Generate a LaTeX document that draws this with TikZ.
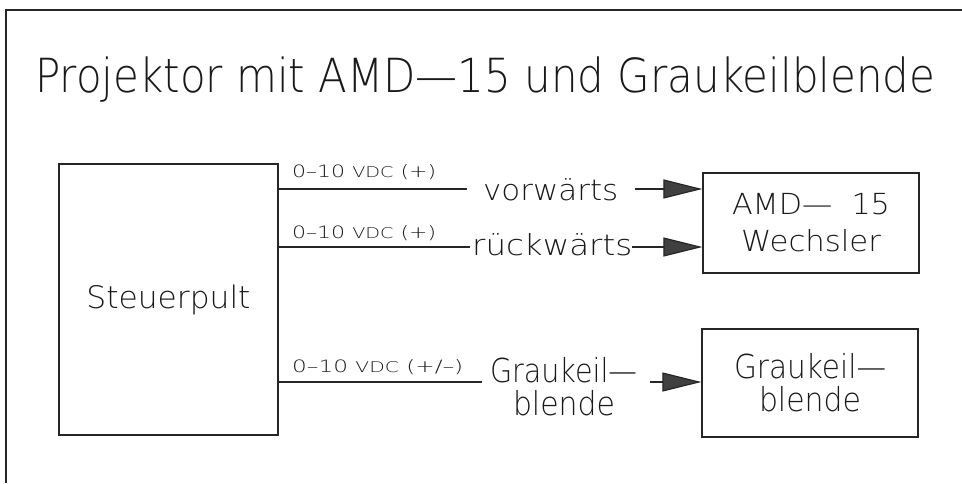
\documentclass[tikz,border=0pt]{standalone}
\usepackage{graphicx}
\usepackage{fontspec}
\setmainfont{DejaVu Sans ExtraLight}
\usetikzlibrary{arrows.meta}
\newcommand{\tw}[2]{\resizebox{#1}{\height}{#2}}
\newcommand{\vdc}{\scalebox{0.87}{VDC}}
\tikzset{
  frame/.style={line width=1.4pt, draw=black!85},
  box/.style={draw=black!85, line width=1.3pt, inner sep=0pt, align=center, text=black!90},
  txt/.style={inner sep=0pt, anchor=base west, text=black!90},
  wire/.style={line width=1.2pt, draw=black!85},
  tip/.style={-{Triangle[length=39pt,width=19pt,fill=black!75]}},
}
\begin{document}
\begin{tikzpicture}[x=1pt,y=-1pt]
\useasboundingbox (0,0) rectangle (962,483);
\fill[white] (0,0) rectangle (962,483);
% frame
\draw[frame] (962,10) -- (6,10) -- (6,483);
% title
\node[txt, font=\fontsize{47}{47}\selectfont] (title) at (35,92) {\tw{900pt}{Projektor mit AMD—15 und Graukeilblende}};
% boxes
\node[box, minimum width=219pt, minimum height=271pt, font=\fontsize{31}{31}\selectfont] (sp) at (168.5,299.5)
  {\tw{164pt}{Steuerpult}};
\node[box, minimum width=216pt, minimum height=100pt, font=\fontsize{29}{37}\selectfont] (amd) at (811,223)
  {\tw{158pt}{AMD— \ 15}\\\tw{140pt}{Wechsler}};
\node[box, minimum width=216pt, minimum height=108pt, font=\fontsize{33}{33}\selectfont] (gk) at (810,383)
  {\tw{152pt}{Graukeil—}\\\tw{102pt}{blende}};
% voltage labels
\node[txt, font=\fontsize{17}{17}\selectfont] (l1) at (292,177) {\tw{144pt}{0–10 \vdc{} (+)}};
\node[txt, font=\fontsize{17}{17}\selectfont] (l2) at (292,238) {\tw{144pt}{0–10 \vdc{} (+)}};
\node[txt, font=\fontsize{17}{17}\selectfont] (l3) at (292,372) {\tw{171pt}{0–10 \vdc{} (+/–)}};
% signal labels
\node[txt, font=\fontsize{29}{29}\selectfont] (vw) at (483,200) {\tw{135pt}{vorwärts}};
\node[txt, font=\fontsize{29}{29}\selectfont] (rw) at (472,255) {\tw{160pt}{rückwärts}};
\node[txt, anchor=base, font=\fontsize{33}{33}\selectfont] (gl1) at (563.5,382) {\tw{147pt}{Graukeil—}};
\node[txt, anchor=base, font=\fontsize{33}{33}\selectfont] (gl2) at (564,415) {\tw{102pt}{blende}};
% wire coordinates
\coordinate (a1) at (467,189);
\coordinate (b1) at (635,189);
\coordinate (a2) at (470,247);
\coordinate (b2) at (632,247);
\coordinate (a3) at (482,382);
\coordinate (b3) at (650,382);
% wires
\draw[wire] (sp.east |- a1) -- (a1);
\draw[wire, tip] (b1) -- (amd.west |- b1);
\draw[wire] (sp.east |- a2) -- (a2);
\draw[wire, tip] (b2) -- (amd.west |- b2);
\draw[wire] (sp.east |- a3) -- (a3);
\draw[wire, tip] (b3) -- (gk.west |- b3);
\end{tikzpicture}
\end{document}
